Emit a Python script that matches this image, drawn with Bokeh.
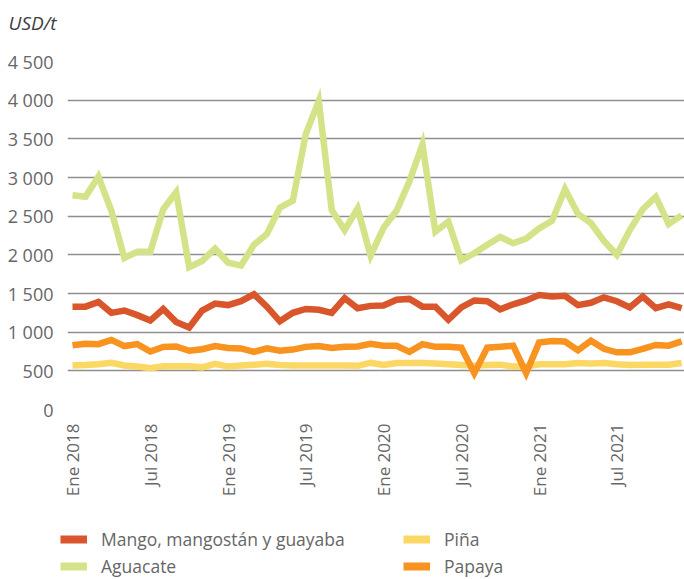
import math
from bokeh.plotting import figure
from bokeh.models import Legend, LegendItem, FixedTicker, Range1d, Label
from bokeh.embed import file_html
from bokeh.resources import INLINE

# ---- data ----
tick_idx = [0, 6, 12, 18, 24, 30, 36, 42]
tick_labels = ["Ene 2018", "Jul 2018", "Ene 2019", "Jul 2019",
               "Ene 2020", "Jul 2020", "Ene 2021", "Jul 2021"]
y_ticks = [0, 500, 1000, 1500, 2000, 2500, 3000, 3500, 4000, 4500]
y_tick_labels = ["0", "500", "1 000", "1 500", "2 000", "2 500",
                 "3 000", "3 500", "4 000", "4 500"]

mango = [1330, 1330, 1390, 1250, 1280, 1220, 1150, 1300, 1130, 1060,
         1280, 1370, 1350, 1400, 1490, 1330, 1140, 1250, 1300, 1290,
         1250, 1440, 1310, 1340,
         1345, 1420, 1430, 1330, 1330, 1160, 1320, 1410, 1400, 1295,
         1360, 1410, 1480, 1460, 1470, 1350, 1380, 1450, 1400, 1320,
         1460, 1310, 1360, 1310]
pina = [570, 575, 585, 605, 570, 555, 535, 560, 560, 560,
        545, 590, 555, 570, 580, 590, 575, 570, 570, 570,
        570, 570, 565, 605,
        575, 600, 600, 600, 595, 585, 575, 565, 575, 580,
        555, 555, 585, 585, 585, 600, 595, 600, 585, 575,
        580, 580, 580, 600]
aguacate = [2770, 2750, 3010, 2570, 1960, 2040, 2040, 2590, 2810, 1840,
            1920, 2080, 1900, 1860, 2130, 2270, 2610, 2700, 3560, 3990,
            2580, 2320, 2600, 1990, 2350, 2570, 2950, 3430, 2300, 2430,
            1930, 2020, 2130, 2230, 2150, 2210, 2340, 2440, 2850, 2530,
            2410, 2180, 2000, 2320, 2590, 2750, 2400, 2510]
papaya = [830, 850, 845, 900, 820, 845, 750, 810, 815, 760,
          780, 820, 795, 790, 745, 790, 760, 775, 810, 820,
          795, 810, 815, 850,
          825, 825, 745, 845, 810, 810, 800, 470, 800, 810,
          825, 470, 865, 885, 880, 765, 890, 785, 740, 740,
          785, 835, 825, 880]

names = ["Mango, mangostán y guayaba", "Piña", "Aguacate", "Papaya"]
colors = ["#d9552b", "#fbd764", "#d4e388", "#f7931e"]
series = [mango, pina, aguacate, papaya]
unit_text = "USD/t"

x = list(range(len(mango)))

FONT = "Open Sans"
GRAY = "#666666"


def blank(h):
    f = figure(width=684, height=h, output_backend="svg", toolbar_location=None,
               x_range=Range1d(0, 1), y_range=Range1d(-2, -1),
               min_border=0, x_axis_type=None, y_axis_type=None)
    f.outline_line_color = None
    f.xgrid.visible = False
    f.ygrid.visible = False
    f.background_fill_color = "white"
    f.border_fill_color = "white"
    return f


# ---- unit label strip ----
pt = blank(40)
pt.add_layout(Label(x=8, y=18, x_units="screen", y_units="screen",
                    text=unit_text, text_font=FONT, text_font_size="19px",
                    text_font_style="italic", text_color="#404040",
                    text_baseline="middle", text_align="left"))

# ---- main chart ----
p = figure(width=684, height=470, output_backend="svg", toolbar_location=None,
           x_range=Range1d(-0.386, 47.22), y_range=Range1d(0, 4500),
           min_border_left=67, min_border_right=0, min_border_top=21,
           min_border_bottom=101)
p.outline_line_color = None
p.background_fill_color = "white"
p.border_fill_color = "white"

p.xgrid.grid_line_color = None
p.ygrid.grid_line_color = "#8f8f8f"
p.ygrid.grid_line_width = 1.5
p.ygrid.ticker = FixedTicker(ticks=y_ticks)

p.yaxis.ticker = FixedTicker(ticks=y_ticks)
p.yaxis.major_label_overrides = {t: l for t, l in zip(y_ticks, y_tick_labels)}
p.yaxis.axis_line_color = None
p.yaxis.major_tick_line_color = None
p.yaxis.minor_tick_line_color = None
p.yaxis.major_tick_out = 0
p.yaxis.major_tick_in = 0
p.yaxis.major_label_standoff = 14
p.yaxis.major_label_text_font = FONT
p.yaxis.major_label_text_font_size = "18px"
p.yaxis.major_label_text_color = GRAY

p.xaxis.ticker = FixedTicker(ticks=tick_idx)
p.xaxis.major_label_overrides = {t: l for t, l in zip(tick_idx, tick_labels)}
p.xaxis.major_label_orientation = math.pi / 2
p.xaxis.axis_line_color = None
p.xaxis.major_tick_line_color = None
p.xaxis.minor_tick_line_color = None
p.xaxis.major_tick_out = 0
p.xaxis.major_tick_in = 0
p.xaxis.major_label_standoff = 14
p.xaxis.major_label_text_font = FONT
p.xaxis.major_label_text_font_size = "17px"
p.xaxis.major_label_text_color = GRAY

for name, col, ys in zip(names, colors, series):
    p.line(x, ys, line_color=col, line_width=6.5, line_join="miter")

# ---- legend strip (series drawn outside its range; only swatches show) ----
pl = blank(69)
legr = []
for col, ys in zip(colors, series):
    legr.append(pl.line(x, ys, line_color=col, line_width=8))

common = dict(border_line_color=None, background_fill_alpha=0, padding=0,
              margin=0, spacing=3, glyph_width=27, glyph_height=20,
              label_height=20, label_standoff=14,
              label_text_font=FONT, label_text_font_size="17.5px",
              label_text_color=GRAY)
leg1 = Legend(items=[LegendItem(label=names[0], renderers=[legr[0]]),
                     LegendItem(label=names[2], renderers=[legr[2]])],
              location=(60, 1), **common)
leg2 = Legend(items=[LegendItem(label=names[1], renderers=[legr[1]]),
                     LegendItem(label=names[3], renderers=[legr[3]])],
              location=(403, 1), **common)
pl.add_layout(leg1, "center")
pl.add_layout(leg2, "center")

open("out.html", "w").write(file_html([pt, p, pl], INLINE))
